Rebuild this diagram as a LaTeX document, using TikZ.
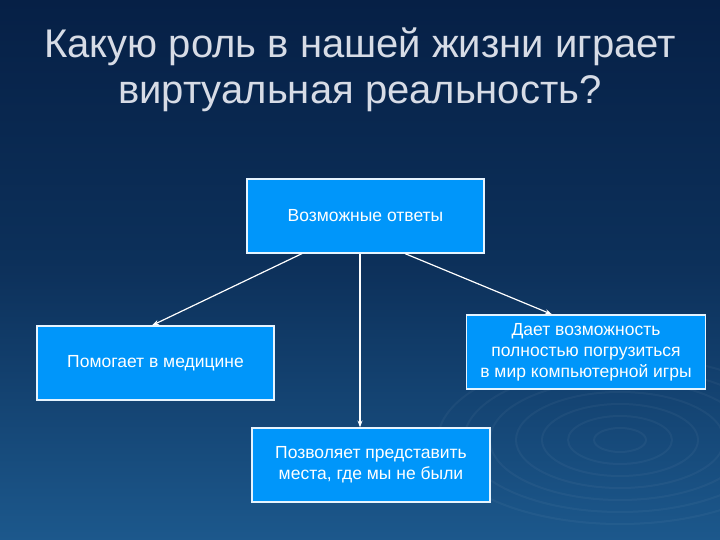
\documentclass[tikz,border=0pt]{standalone}
\usepackage{fontspec}
\setmainfont{Liberation Sans}
\usetikzlibrary{arrows.meta, positioning}
\definecolor{navy}{RGB}{6, 32, 70}
\definecolor{deepsea}{RGB}{28, 88, 140}
\definecolor{boxblue}{RGB}{0, 150, 250}
\definecolor{titlegray}{RGB}{215, 220, 230}

\begin{document}
\begin{tikzpicture}[x=1pt, y=-1pt,
    answer/.style={draw=white!90!boxblue, line width=1.2pt, fill=boxblue,
                   text=white, minimum width=237pt, minimum height=74pt,
                   align=center, font=\fontsize{17.5}{21}\selectfont},
    link/.style={-{Stealth[length=7pt, width=5pt]}, draw=white, line width=1.2pt}
]
    \useasboundingbox (0,0) rectangle (720,540);
    % Background
    \shade[top color=navy, bottom color=deepsea, middle color=navy!70!deepsea]
        (0,0) rectangle (720,540);
    \begin{scope}
        \clip (0,0) rectangle (720,540);
        \foreach \r in {20,40,...,140}
            \draw[white, opacity=0.04, line width=2pt] (620,440) ellipse ({\r*1.3} and \r*0.6);
    \end{scope}

    % Title
    \node[text=titlegray, align=center, font=\fontsize{40}{46}\selectfont]
        (title) at (360,70) {Какую роль в нашей жизни играет\\виртуальная реальность?};

    % Boxes
    \node[answer] (root) at (365.5,216) {Возможные ответы};
    \node[answer] (med) at (155.5,363) {Помогает в медицине};
    \node[answer, minimum width=239pt] (game) at (586,352)
        {Дает возможность\\полностью погрузиться\\в мир компьютерной игры};
    \node[answer, minimum width=238pt] (place) at (371,465)
        {Позволяет представить\\места, где мы не были};

    % Arrows
    \draw[link] (root.south -| 302,0) -- (med.north -| 152,0);
    \draw[link] (root.south -| 360,0) -- (place.north -| 360,0);
    \draw[link] (root.south -| 405,0) -- (game.north -| 552,0);
\end{tikzpicture}
\end{document}
